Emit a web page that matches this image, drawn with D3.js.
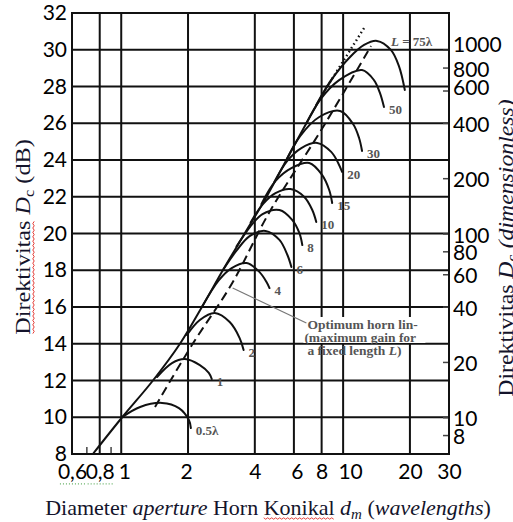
<!DOCTYPE html>
<html>
<head>
<meta charset="utf-8">
<script src="https://cdn.jsdelivr.net/npm/d3@7"></script>
<style>
  body { margin: 0; background: #fff; }
  svg { display: block; }
</style>
</head>
<body>
<svg id="chart" width="513" height="522"></svg>
<script>
// Axis ticks
const xTicks = [0.6, 0.8, 1, 2, 4, 6, 8, 10, 20, 30];
const xTickLabels = ["0,6", "0,8", "1", "2", "4", "6", "8", "10", "20", "30"];
const xGridValues = [0.8, 1, 2, 4, 6, 8, 10, 20];
const xMinorTicks = [0.7, 0.9];
const yTicks = [8, 10, 12, 14, 16, 18, 20, 22, 24, 26, 28, 30, 32];
const rightTicks = [8, 10, 20, 40, 60, 80, 100, 200, 400, 600, 800, 1000];

// Directivity envelope (aperture diameter in wavelengths, dB)
const envelope = [[0.745, 8], [1.01, 10], [1.39, 12], [1.84, 14], [2.31, 16], [2.87, 18],
  [3.60, 20], [4.52, 22], [5.55, 24], [6.83, 26], [8.48, 28], [8.9, 28.4]];
const envelopeDotted = [[8.48, 28], [12.43, 31.18]];

// Optimum horn line (maximum gain for a fixed length L)
const optimum = [[1.42, 10.56], [2.082, 13.93], [3.146, 17.25], [4.658, 21.17], [7.966, 25.63], [13.35, 30.2]];

// Directivity for each axial horn length L
const lengthLabels = ["0.5λ", "1", "2", "4", "6", "8", "10", "15", "20", "30", "50", "75λ"];
const hornL05 = [[1.01, 10.01], [1.217, 10.56], [1.527, 10.78], [1.82, 10.5], [2.018, 9.85], [2.06, 9.41]];
const hornL1 = [[1.45, 12.19], [1.693, 12.95], [1.936, 13.17], [2.261, 12.84], [2.481, 12.41], [2.559, 12.08]];
const hornL2 = [[1.977, 14.48], [2.261, 15.29], [2.639, 15.67], [3.082, 15.18], [3.417, 14.31], [3.561, 13.66]];
const hornL4 = [[2.31, 16], [2.75, 17.45], [3.146, 18.12], [3.673, 18.39], [4.201, 17.9], [4.516, 17.36], [4.658, 17.03]];
const hornL6 = [[2.87, 18], [3.3, 19.05], [3.789, 19.86], [4.47, 20.14], [5.164, 19.65], [5.61, 18.83], [5.845, 18.18]];
const hornL8 = [[3.31, 19.3], [3.8, 20.35], [4.333, 21.06], [5.164, 21.28], [5.906, 20.73], [6.348, 20.03], [6.548, 19.37]];
const hornL10 = [[3.83, 20.6], [4.35, 21.6], [4.956, 22.2], [5.785, 22.42], [6.686, 21.99], [7.261, 21.28], [7.568, 20.63]];
const hornL15 = [[4.28, 21.6], [4.95, 22.85], [5.845, 23.56], [7.04, 23.84], [8.05, 23.18], [8.655, 22.37], [8.926, 21.66]];
const hornL20 = [[4.895, 22.8], [5.6, 23.95], [6.481, 24.65], [7.645, 24.93], [8.836, 24.44], [9.497, 23.84], [9.897, 23.35]];
const hornL30 = [[5.55, 24], [6.4, 25.3], [7.805, 26.34], [9.694, 26.67], [11.09, 25.96], [11.8, 25.2], [12.17, 24.49]];
const hornL50 = [[6.83, 26], [7.9, 27.3], [9.594, 28.35], [12.17, 28.9], [13.77, 28.35], [14.65, 27.65], [15.28, 26.88]];
const hornL75 = [[7.56, 27], [8.9, 28.4], [10.64, 29.55], [12.43, 30.26], [14.21, 30.48], [16.41, 29.99], [17.83, 29.12], [18.97, 27.81]];
const hornCurves = [hornL05, hornL1, hornL2, hornL4, hornL6, hornL8, hornL10, hornL15, hornL20, hornL30, hornL50, hornL75];

const optimumNote = ["Optimum horn lin-", "(maximum gain for", "a fixed length L)"];
const leaderFrom = [3.178, 17.03];
const leaderTo = [6.83, 15.13];

const svg = d3.select("#chart");
const plotL = 72, plotR = 449, plotT = 13, plotB = 454;

const x = d3.scaleLog().domain([0.6, 30]).range([plotL, plotR]);
const y = d3.scaleLinear().domain([8, 32]).range([plotB, plotT]);
const yRight = d3.scaleLog().domain([Math.pow(10, 0.8), Math.pow(10, 3.2)]).range([plotB, plotT]);

const numFont = "Lato, 'Noto Sans', sans-serif";
const serif = "'Liberation Serif', 'Times New Roman', serif";
const ink = "#111";

// Small hand-placement nudges for crowded tick labels (px)
const xLabelNudge = { 1: 3, 2: -2, 6: 3, 10: 7 };
const rightLabelNudge = { 1000: -7, 600: -5 };

// Grid
const grid = svg.append("g").attr("stroke", ink).attr("stroke-width", 2);
grid.selectAll("line.h").data(yTicks).join("line")
  .attr("x1", plotL).attr("x2", plotR)
  .attr("y1", d => y(d)).attr("y2", d => y(d));
grid.selectAll("line.v").data(xGridValues).join("line")
  .attr("y1", plotT).attr("y2", plotB)
  .attr("x1", d => x(d)).attr("x2", d => x(d));

// Minor ticks on the bottom edge
svg.append("g").selectAll("line").data(xMinorTicks).join("line")
  .attr("x1", d => x(d)).attr("x2", d => x(d))
  .attr("y1", plotB).attr("y2", plotB - 7)
  .attr("stroke", "#444").attr("stroke-width", 1.5);

// Left axis (dB)
const yAxis = svg.append("g").attr("transform", `translate(${plotL},0)`)
  .call(d3.axisLeft(y).tickValues(yTicks).tickSize(0).tickPadding(5));
yAxis.select(".domain").remove();
yAxis.selectAll("text").attr("font-family", numFont).attr("font-size", 21).attr("fill", "#000");

// Right axis (dimensionless)
const rAxis = svg.append("g").attr("transform", `translate(${plotR},0)`)
  .call(d3.axisRight(yRight).tickValues(rightTicks).tickFormat(d3.format("d")).tickSize(-6).tickPadding(4));
rAxis.select(".domain").remove();
rAxis.selectAll("line").attr("stroke", "#444").attr("stroke-width", 1.5);
rAxis.selectAll("text").attr("font-family", numFont).attr("font-size", 21).attr("fill", "#000")
  .attr("dy", null).attr("dominant-baseline", "central")
  .attr("y", d => rightLabelNudge[d] || 0);

// Bottom axis
const xAxis = svg.append("g").attr("transform", `translate(0,${plotB})`)
  .call(d3.axisBottom(x).tickValues(xTicks).tickFormat((d, i) => xTickLabels[i]).tickSize(0).tickPadding(10));
xAxis.select(".domain").remove();
xAxis.selectAll("text").attr("font-family", numFont).attr("font-size", 21).attr("fill", "#000")
  .attr("x", d => xLabelNudge[d] || 0);

// Grammar-check dotted marks under the decimal-comma labels
xAxis.selectAll(".tick").filter(d => d < 1).each(function () {
  const bb = this.querySelector("text").getBBox();
  d3.select(this).append("line")
    .attr("x1", bb.x + 2).attr("x2", bb.x + bb.width - 2)
    .attr("y1", bb.y + bb.height + 1).attr("y2", bb.y + bb.height + 1)
    .attr("stroke", "#3a9a3a").attr("stroke-width", 1).attr("stroke-dasharray", "1 2");
});

// Plot frame
svg.append("rect").attr("x", plotL).attr("y", plotT)
  .attr("width", plotR - plotL).attr("height", plotB - plotT)
  .attr("fill", "none").attr("stroke", ink).attr("stroke-width", 2);

// Curves
const line = d3.line().x(d => x(d[0])).y(d => y(d[1])).curve(d3.curveCatmullRom.alpha(0.5));
const curves = svg.append("g").attr("fill", "none").attr("stroke", ink)
  .attr("stroke-width", 2).attr("stroke-linecap", "round");
curves.append("path").attr("d", line(envelope));
curves.selectAll("path.horn").data(hornCurves).join("path").attr("class", "horn").attr("d", line);
curves.append("path").attr("d", line(optimum)).attr("stroke-dasharray", "9 5").attr("stroke-linecap", "butt");
curves.append("path").attr("d", line(envelopeDotted)).attr("stroke-dasharray", "1.5 3").attr("stroke-width", 2.4).attr("stroke-linecap", "butt");

// Curve labels (at each curve's end; the longest horn is labelled beside its peak)
const labelG = svg.append("g").attr("font-family", serif).attr("font-weight", "bold")
  .attr("font-size", 13).attr("fill", "#555");
hornCurves.forEach((c, i) => {
  const isLast = i === hornCurves.length - 1;
  const anchor = isLast ? c.reduce((a, b) => (b[1] > a[1] ? b : a)) : c[c.length - 1];
  const t = labelG.append("text")
    .attr("x", x(anchor[0]) + (isLast ? 14 : 5))
    .attr("y", y(anchor[1]) + (isLast ? 5 : 7));
  if (isLast) {
    t.append("tspan").attr("font-style", "italic").text("L");
    t.append("tspan").text(" = " + lengthLabels[i]);
  } else {
    t.text(lengthLabels[i]);
  }
});

// Optimum line note
const noteX = x(leaderTo[0]), noteY = y(leaderTo[1]);
svg.append("rect").attr("x", noteX - 3).attr("y", noteY - 6)
  .attr("width", 122).attr("height", 26).attr("fill", "#fff");
svg.append("line")
  .attr("x1", x(leaderFrom[0])).attr("y1", y(leaderFrom[1]))
  .attr("x2", noteX).attr("y2", noteY)
  .attr("stroke", "#777").attr("stroke-width", 1.2);
const note = svg.append("g").attr("font-family", serif).attr("font-weight", "bold")
  .attr("font-size", 13.5).attr("fill", "#555");
optimumNote.forEach((s, i) => {
  const t = note.append("text").attr("x", noteX + (i === 1 ? -2 : 1)).attr("y", noteY + 6 + i * 13);
  if (s.endsWith("L)")) {
    t.append("tspan").text(s.slice(0, -2));
    t.append("tspan").attr("font-style", "italic").text("L");
    t.append("tspan").text(")");
  } else {
    t.text(s);
  }
});

// Wavy spell-check underline (red)
function wavy(g, x0, x1, yy) {
  const pts = [];
  for (let xx = x0, k = 0; xx <= x1; xx += 2, k++) pts.push([xx, yy + (k % 2 ? 1.2 : -0.2)]);
  g.append("path").attr("d", d3.line()(pts)).attr("fill", "none")
    .attr("stroke", "#e0302a").attr("stroke-width", 0.9);
}

// Axis titles
const titleColor = "#14142b";
const ltG = svg.append("g").attr("transform", "translate(30,237) rotate(-90) scale(1.1,1)");
const lt = ltG.append("text").attr("font-family", serif).attr("font-size", 22).attr("fill", titleColor)
  .attr("text-anchor", "middle");
lt.append("tspan").text("Direktivitas ");
lt.append("tspan").attr("font-style", "italic").text("D");
lt.append("tspan").attr("font-size", 15).attr("dy", 4).text("c");
lt.append("tspan").attr("dy", -4).text(" (dB)");
{
  const n = lt.node(), total = n.getComputedTextLength();
  const x0 = -total / 2;
  wavy(ltG, x0 + 1, x0 + n.getSubStringLength(0, 12), 3);
}

const rtG = svg.append("g").attr("transform", "translate(513,248) rotate(-90) scale(1.08,1)");
const rt = rtG.append("text").attr("font-family", serif).attr("font-size", 22).attr("fill", titleColor)
  .attr("text-anchor", "middle");
rt.append("tspan").text("Direktivitas ");
rt.append("tspan").attr("font-style", "italic").text("D");
rt.append("tspan").attr("font-size", 15).attr("dy", 4).text("c");
rt.append("tspan").attr("dy", -4).attr("font-style", "italic").text(" (dimensionless)");

const btG = svg.append("g");
const bt = btG.append("text").attr("font-family", serif).attr("font-size", 22).attr("fill", titleColor)
  .attr("text-anchor", "middle").attr("x", 268).attr("y", 515);
bt.append("tspan").text("Diameter ");
bt.append("tspan").attr("font-style", "italic").text("aperture");
bt.append("tspan").text(" Horn Konikal ");
bt.append("tspan").attr("font-style", "italic").text("d");
bt.append("tspan").attr("font-style", "italic").attr("font-size", 15).attr("dy", 4).text("m");
bt.append("tspan").attr("dy", -4).text(" (");
bt.append("tspan").attr("font-style", "italic").text("wavelengths");
bt.append("tspan").text(")");
{
  const n = bt.node(), total = n.getComputedTextLength();
  const x0 = 268 - total / 2;
  const s = n.getSubStringLength(0, 23), w = n.getSubStringLength(23, 7);
  wavy(btG, x0 + s, x0 + s + w, 518);
}
</script>
</body>
</html>
